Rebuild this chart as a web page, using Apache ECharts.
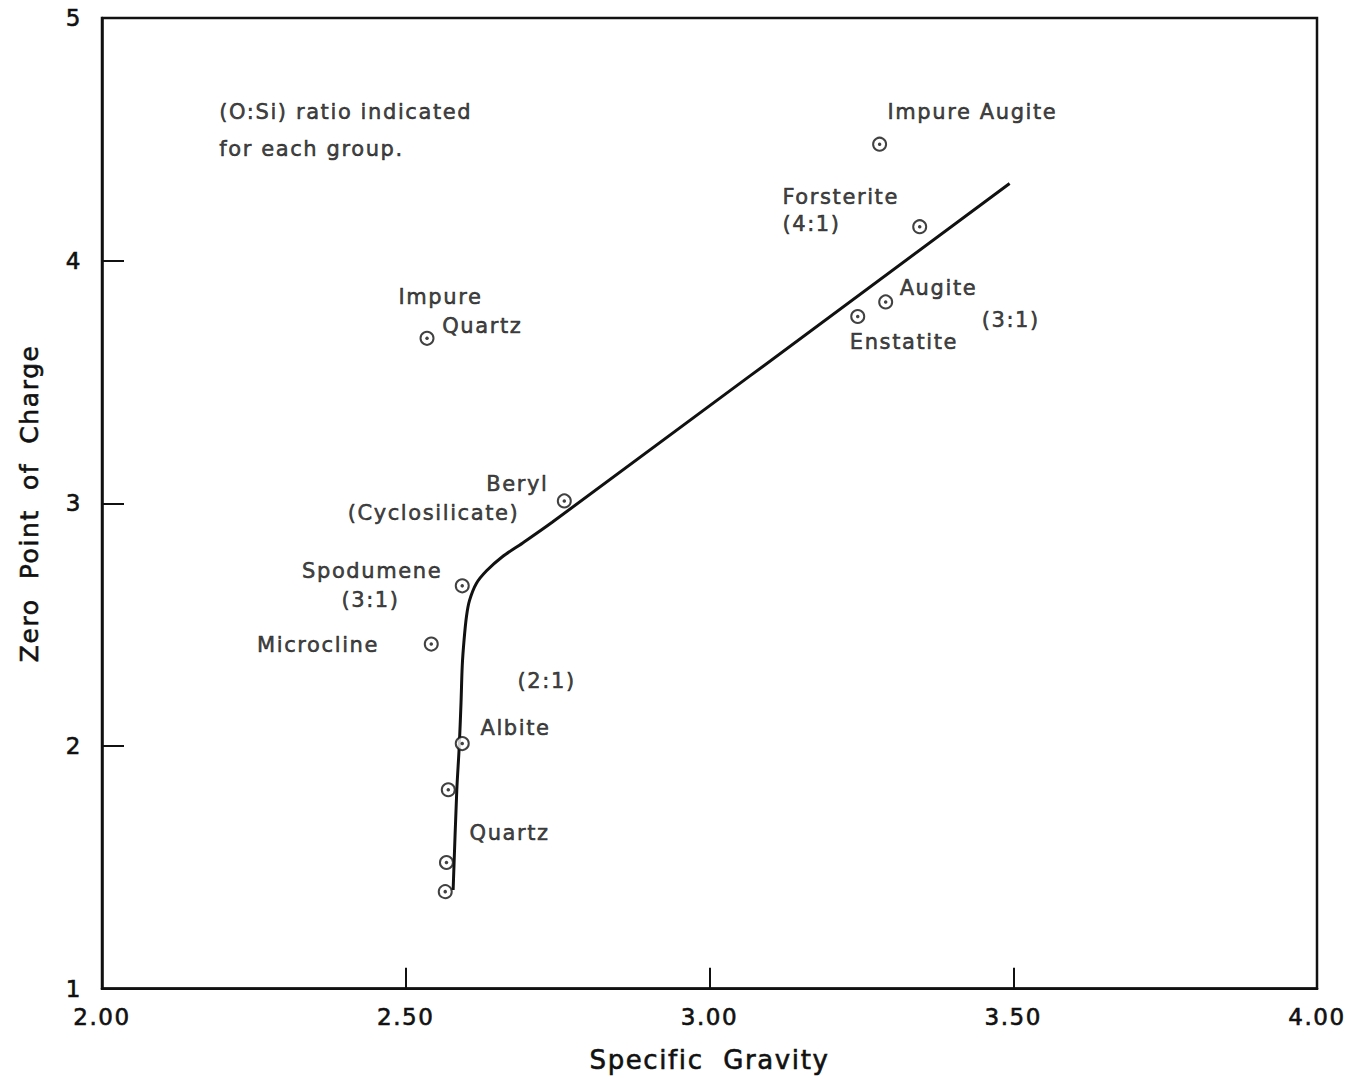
<!DOCTYPE html>
<html>
<head>
<meta charset="utf-8">
<script src="https://cdn.jsdelivr.net/npm/echarts@6/dist/echarts.min.js"></script>
<style>
  html, body { margin: 0; padding: 0; background: #fff; }
  #chart { width: 1362px; height: 1078px; }
  #chart text { letter-spacing: 1.6px; }
</style>
</head>
<body>
<div id="chart"></div>
<script>
// ---- data ----
const xTickValues = [2.0, 2.5, 3.0, 3.5, 4.0];
const xTickLabels = ['2.00', '2.50', '3.00', '3.50', '4.00'];
const yTickLabels = ['1', '2', '3', '4', '5'];

const mineralNames = ['Impure Augite', 'Forsterite', 'Augite', 'Enstatite', 'Impure Quartz',
  'Beryl', 'Spodumene', 'Microcline', 'Albite', 'Quartz', 'Quartz', 'Quartz'];
const specificGravity = [3.280, 3.346, 3.290, 3.244, 2.535, 2.761, 2.593, 2.542, 2.593, 2.570, 2.567, 2.565];
const zeroPointCharge = [4.48, 4.14, 3.83, 3.77, 3.68, 3.01, 2.66, 2.42, 2.01, 1.82, 1.52, 1.40];

// trend curve drawn through the groups
const curveX = [2.578, 2.584, 2.588, 2.591, 2.593, 2.596, 2.600, 2.605, 2.616, 2.633, 2.659, 2.692, 2.741, 3.494];
const curveY = [1.407, 1.817, 1.996, 2.180, 2.331, 2.437, 2.535, 2.600, 2.669, 2.722, 2.780, 2.836, 2.922, 4.318];

// annotation texts: [text, x, y, align]
const annotations = [
  ['(O:Si) ratio indicated', 2.193, 4.611, 'left'],
  ['for each group.', 2.193, 4.460, 'left'],
  ['Impure Augite', 3.293, 4.611, 'left'],
  ['Forsterite', 3.120, 4.264, 'left'],
  ['(4:1)', 3.120, 4.151, 'left'],
  ['Augite', 3.313, 3.888, 'left'],
  ['(3:1)', 3.448, 3.756, 'left'],
  ['Enstatite', 3.231, 3.665, 'left'],
  ['Impure', 2.488, 3.851, 'left'],
  ['Quartz', 2.560, 3.731, 'left'],
  ['Beryl', 2.735, 3.079, 'right'],
  ['(Cyclosilicate)', 2.687, 2.959, 'right'],
  ['Spodumene', 2.560, 2.722, 'right'],
  ['(3:1)', 2.442, 2.600, 'center'],
  ['Microcline', 2.456, 2.416, 'right'],
  ['(2:1)', 2.684, 2.269, 'left'],
  ['Albite', 2.623, 2.073, 'left'],
  ['Quartz', 2.605, 1.642, 'left']
];

// ---- build chart ----
const FONT = 'DejaVu Sans';
const INK = '#111111';
const STROKE = { textBorderColor: INK, textBorderWidth: 0.6 };
const pointData = specificGravity.map((x, i) => [x, zeroPointCharge[i], mineralNames[i]]);
const curveData = curveX.map((x, i) => [x, curveY[i]]);
const annotationData = annotations.map(a => ({
  value: [a[1], a[2]],
  label: { formatter: a[0], align: a[3] }
}));

const chart = echarts.init(document.getElementById('chart'), null, { renderer: 'svg' });
chart.setOption({
  backgroundColor: '#ffffff',
  animation: false,
  grid: {
    left: 102, right: 45, top: 18, bottom: 88,
    show: true, borderColor: INK, borderWidth: 2.5, backgroundColor: 'transparent'
  },
  xAxis: {
    type: 'value', min: 2, max: 4, interval: 0.5,
    name: 'Specific  Gravity', nameLocation: 'middle', nameGap: 58,
    nameTextStyle: Object.assign({ fontFamily: FONT, fontSize: 26, color: INK }, STROKE),
    axisLine: { show: true, lineStyle: { color: INK, width: 2.5 } },
    axisTick: { show: true, inside: true, length: 21, lineStyle: { color: INK, width: 2 } },
    axisLabel: Object.assign({
      fontFamily: FONT, fontSize: 23, color: INK, margin: 17,
      formatter: v => { const i = xTickValues.findIndex(t => Math.abs(t - v) < 1e-6); return i >= 0 ? xTickLabels[i] : ''; }
    }, STROKE),
    splitLine: { show: false }
  },
  yAxis: {
    type: 'value', min: 1, max: 5, interval: 1,
    name: 'Zero  Point  of  Charge', nameLocation: 'middle', nameGap: 60,
    nameTextStyle: Object.assign({ fontFamily: FONT, fontSize: 25, color: INK }, STROKE),
    axisLine: { show: true, lineStyle: { color: INK, width: 2.5 } },
    axisTick: { show: true, inside: true, length: 22, lineStyle: { color: INK, width: 2 } },
    axisLabel: Object.assign({
      fontFamily: FONT, fontSize: 23, color: INK, margin: 20,
      formatter: v => yTickLabels[Math.round(v) - 1] || ''
    }, STROKE),
    splitLine: { show: false }
  },
  series: [
    {
      type: 'line', data: curveData, showSymbol: false, smooth: 0.3,
      lineStyle: { color: INK, width: 3 }, z: 2
    },
    {
      type: 'scatter', data: pointData, symbol: 'circle', symbolSize: 13,
      itemStyle: { color: '#ffffff', borderColor: INK, borderWidth: 2 }, z: 3
    },
    {
      type: 'scatter', data: pointData, symbol: 'circle', symbolSize: 3.5,
      itemStyle: { color: INK }, z: 4
    },
    {
      type: 'scatter', data: annotationData, symbolSize: 0, silent: true,
      label: Object.assign({
        show: true, position: 'inside', verticalAlign: 'middle',
        fontFamily: FONT, fontSize: 21, color: INK
      }, STROKE), z: 5
    }
  ]
});
</script>
</body>
</html>
